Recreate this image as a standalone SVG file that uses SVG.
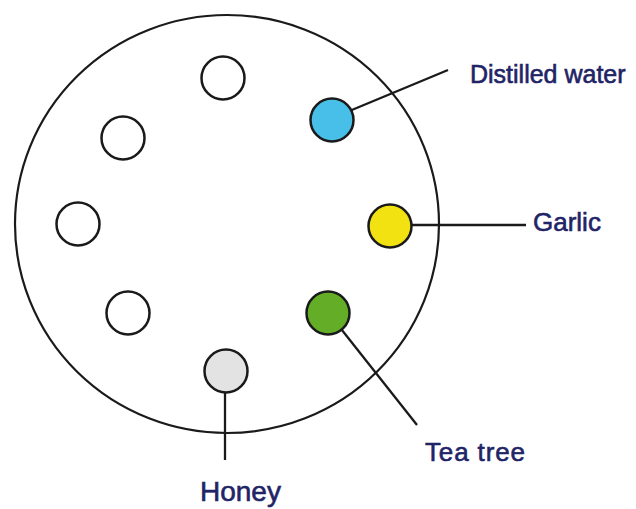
<svg xmlns="http://www.w3.org/2000/svg" width="636" height="509" viewBox="0 0 636 509">
<style>
.well{stroke:#1a1a1a;stroke-width:2.5;fill:#fff}
.lead{stroke:#1a1a1a;stroke-width:2.3;fill:none}
.lbl{font-family:"Liberation Sans",Arial,sans-serif;font-size:26px;fill:#1f2466;stroke:#1f2466;stroke-width:0.6}
</style>
<rect width="636" height="509" fill="#fff"/>
<g id="plate"><ellipse cx="227" cy="224" rx="212" ry="209" fill="none" stroke="#1a1a1a" stroke-width="2.2"/></g>
<g id="connectors">
<line class="lead" x1="347" y1="112" x2="448" y2="70"/>
<line class="lead" x1="397" y1="225" x2="526" y2="225"/>
<line class="lead" x1="334" y1="320" x2="417" y2="425"/>
<line class="lead" x1="225" y1="378" x2="225" y2="460"/>
</g>
<g id="well-top"><circle class="well" cx="223" cy="78" r="21.5"/></g>
<g id="well-upper-left"><circle class="well" cx="123" cy="138" r="21.5"/></g>
<g id="well-left"><circle class="well" cx="78" cy="224" r="21.5"/></g>
<g id="well-lower-left"><circle class="well" cx="128" cy="313" r="21.5"/></g>
<g id="well-honey"><circle class="well" cx="226" cy="371" r="21.5" style="fill:#e3e3e3"/></g>
<g id="well-tea-tree"><circle class="well" cx="328" cy="313" r="21.5" style="fill:#63ae26"/></g>
<g id="well-garlic"><circle class="well" cx="390" cy="226" r="21.5" style="fill:#f2e211"/></g>
<g id="well-distilled-water"><circle class="well" cx="332" cy="120" r="21.5" style="fill:#47bfe8"/></g>
<g id="labels">
<text class="lbl" x="470" y="83" style="font-size:25px">Distilled water</text>
<text class="lbl" x="533" y="231">Garlic</text>
<text class="lbl" x="425" y="461" textLength="100" lengthAdjust="spacing">Tea tree</text>
<text class="lbl" x="200" y="501" style="font-size:28px">Honey</text>
</g>
</svg>
